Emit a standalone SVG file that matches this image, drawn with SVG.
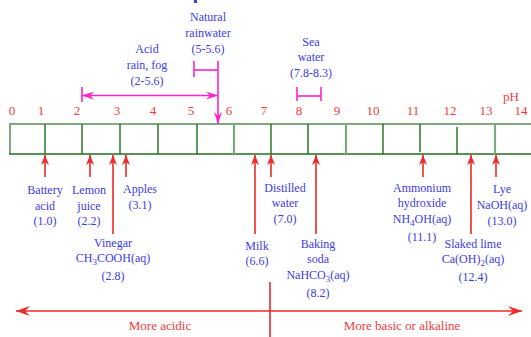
<svg xmlns="http://www.w3.org/2000/svg" width="531" height="337" viewBox="0 0 531 337">
  <style>
    text { font-family: "Liberation Serif", "Times New Roman", serif; }
    .num { fill: #f03c3c; font-size: 13px; text-anchor: middle; }
    .lbl { fill: #3c3ce6; font-size: 12px; text-anchor: middle; }
    .red { fill: #f03c3c; font-size: 13px; text-anchor: middle; }
    .tickd { stroke: #1f6e1f; stroke-width: 1.4; }
    .tickl { stroke: #7fa87f; stroke-width: 2.2; }
    .ptr { stroke: #f02828; stroke-width: 1.6; fill: none; marker-end: url(#up); }
    .mag { stroke: #ff22cc; stroke-width: 1.6; fill: none; }
    .dir { stroke: #ee2a2a; stroke-width: 1.6; fill: none; }
  </style>
  <defs>
    <marker id="up" viewBox="0 0 10 8" refX="10" refY="4" markerWidth="10" markerHeight="8" markerUnits="userSpaceOnUse" orient="auto">
      <path d="M0,0 L10,4 L0,8 L3,4 z" fill="#f02828"/>
    </marker>
    <marker id="mg" viewBox="0 0 12 8" refX="12" refY="4" markerWidth="12" markerHeight="8" markerUnits="userSpaceOnUse" orient="auto-start-reverse">
      <path d="M0,0 L12,4 L0,8 L4,4 z" fill="#ff22cc"/>
    </marker>
    <marker id="rd" viewBox="0 0 14 10" refX="14" refY="5" markerWidth="14" markerHeight="10" markerUnits="userSpaceOnUse" orient="auto-start-reverse">
      <path d="M0,0 L14,5 L0,10 L5,5 z" fill="#ee2a2a"/>
    </marker>
  </defs>

  <!-- small blue mark at the top edge -->
  <rect x="194" y="0" width="3" height="3" fill="#3c3ce6"/>

  <!-- pH scale numbers -->
  <g id="scale-numbers">
    <text class="num" x="12" y="115">0</text>
    <text class="num" x="41" y="115">1</text>
    <text class="num" x="77" y="115">2</text>
    <text class="num" x="117" y="115">3</text>
    <text class="num" x="153" y="115">4</text>
    <text class="num" x="191" y="115">5</text>
    <text class="num" x="229" y="115">6</text>
    <text class="num" x="264" y="115">7</text>
    <text class="num" x="299" y="115">8</text>
    <text class="num" x="337" y="115">9</text>
    <text class="num" x="373" y="115">10</text>
    <text class="num" x="413" y="115">11</text>
    <text class="num" x="450" y="115">12</text>
    <text class="num" x="486" y="115">13</text>
    <text class="num" x="521" y="115">14</text>
    <text class="num" x="511" y="101">pH</text>
  </g>

  <!-- scale bar -->
  <g id="bar">
    <line x1="10" y1="124" x2="531" y2="124" stroke="#7fa87f" stroke-width="2.2"/>
    <line x1="10" y1="123" x2="10" y2="154" stroke="#7fa87f" stroke-width="2"/>
    <line x1="9" y1="154" x2="531" y2="154" stroke="#1f6e1f" stroke-width="1.6"/>
    <line class="tickd" x1="45" y1="124" x2="45" y2="154"/>
    <line class="tickd" x1="82" y1="124" x2="82" y2="154"/>
    <line class="tickd" x1="120" y1="124" x2="120" y2="154"/>
    <line class="tickd" x1="158" y1="124" x2="158" y2="154" stroke="#3f833f"/>
    <line class="tickd" x1="197" y1="124" x2="197" y2="154" stroke="#3f833f"/>
    <line class="tickl" x1="234" y1="124" x2="234" y2="154"/>
    <line class="tickd" x1="271" y1="124" x2="271" y2="154"/>
    <line class="tickd" x1="308" y1="124" x2="308" y2="154"/>
    <line class="tickl" x1="346" y1="124" x2="346" y2="154"/>
    <line class="tickd" x1="383" y1="124" x2="383" y2="154"/>
    <line class="tickd" x1="420" y1="124" x2="420" y2="152"/>
    <line class="tickd" x1="457" y1="127" x2="457" y2="154"/>
    <line class="tickl" x1="495" y1="124" x2="495" y2="154"/>
  </g>

  <!-- range markers above the bar -->
  <g id="connectors">
    <!-- acid rain, fog range -->
    <line class="mag" x1="82" y1="87" x2="82" y2="102"/>
    <line class="mag" x1="82" y1="95.5" x2="218" y2="95.5" marker-start="url(#mg)" marker-end="url(#mg)"/>
    <!-- natural rainwater range -->
    <line class="mag" x1="194" y1="61" x2="194" y2="77"/>
    <line class="mag" x1="194" y1="70" x2="218" y2="70"/>
    <line class="mag" x1="218" y1="61" x2="218" y2="124" marker-end="url(#mg)"/>
    <!-- sea water range -->
    <line class="mag" x1="297" y1="87" x2="297" y2="101"/>
    <line class="mag" x1="321" y1="87" x2="321" y2="101"/>
    <line class="mag" x1="297" y1="96" x2="321" y2="96"/>

    <!-- pointers to the scale -->
    <line class="ptr" x1="45" y1="177" x2="45" y2="155"/>
    <line class="ptr" x1="90" y1="177" x2="90" y2="155"/>
    <line class="ptr" x1="113" y1="234" x2="113" y2="155"/>
    <line class="ptr" x1="126" y1="177" x2="126" y2="155"/>
    <line class="ptr" x1="255" y1="234" x2="255" y2="155"/>
    <line class="ptr" x1="271" y1="177" x2="271" y2="155"/>
    <line class="ptr" x1="316" y1="234" x2="316" y2="155"/>
    <line class="ptr" x1="423" y1="177" x2="423" y2="155"/>
    <line class="ptr" x1="471" y1="234" x2="471" y2="155"/>
    <line class="ptr" x1="496" y1="177" x2="496" y2="155"/>

    <!-- acidic / basic direction -->
    <line class="dir" x1="16" y1="311" x2="522" y2="311" marker-start="url(#rd)" marker-end="url(#rd)"/>
    <line class="dir" x1="270" y1="282" x2="270" y2="337"/>
  </g>

  <!-- range labels -->
  <g id="acid-rain">
    <text class="lbl" x="147" y="53">Acid</text>
    <text class="lbl" x="147" y="69">rain, fog</text>
    <text class="lbl" x="147" y="85">(2-5.6)</text>
  </g>
  <g id="natural-rainwater">
    <text class="lbl" x="208" y="21">Natural</text>
    <text class="lbl" x="208" y="37">rainwater</text>
    <text class="lbl" x="208" y="53">(5-5.6)</text>
  </g>
  <g id="sea-water">
    <text class="lbl" x="311" y="46">Sea</text>
    <text class="lbl" x="311" y="61">water</text>
    <text class="lbl" x="311" y="77">(7.8-8.3)</text>
  </g>

  <!-- substances -->
  <g id="battery-acid">
    <text class="lbl" x="45" y="194">Battery</text>
    <text class="lbl" x="45" y="210">acid</text>
    <text class="lbl" x="45" y="225">(1.0)</text>
  </g>
  <g id="lemon-juice">
    <text class="lbl" x="89" y="194">Lemon</text>
    <text class="lbl" x="89" y="210">juice</text>
    <text class="lbl" x="89" y="225">(2.2)</text>
  </g>
  <g id="apples">
    <text class="lbl" x="140" y="193">Apples</text>
    <text class="lbl" x="140" y="209">(3.1)</text>
  </g>
  <g id="vinegar">
    <text class="lbl" x="113" y="247">Vinegar</text>
    <text class="lbl" x="113" y="262">CH<tspan font-size="9" dy="3">3</tspan><tspan dy="-3">COOH(aq)</tspan></text>
    <text class="lbl" x="113" y="280">(2.8)</text>
  </g>
  <g id="milk">
    <text class="lbl" x="257" y="250">Milk</text>
    <text class="lbl" x="257" y="265">(6.6)</text>
  </g>
  <g id="distilled-water">
    <text class="lbl" x="285" y="192">Distilled</text>
    <text class="lbl" x="285" y="207">water</text>
    <text class="lbl" x="285" y="223">(7.0)</text>
  </g>
  <g id="baking-soda">
    <text class="lbl" x="318" y="248">Baking</text>
    <text class="lbl" x="318" y="263">soda</text>
    <text class="lbl" x="318" y="279">NaHCO<tspan font-size="9" dy="3">3</tspan><tspan dy="-3">(aq)</tspan></text>
    <text class="lbl" x="318" y="297">(8.2)</text>
  </g>
  <g id="ammonium-hydroxide">
    <text class="lbl" x="422" y="192">Ammonium</text>
    <text class="lbl" x="422" y="207">hydroxide</text>
    <text class="lbl" x="422" y="223">NH<tspan font-size="9" dy="3">4</tspan><tspan dy="-3">OH(aq)</tspan></text>
    <text class="lbl" x="422" y="241">(11.1)</text>
  </g>
  <g id="slaked-lime">
    <text class="lbl" x="473" y="248">Slaked lime</text>
    <text class="lbl" x="473" y="263">Ca(OH)<tspan font-size="9" dy="3">2</tspan><tspan dy="-3">(aq)</tspan></text>
    <text class="lbl" x="473" y="281">(12.4)</text>
  </g>
  <g id="lye">
    <text class="lbl" x="502" y="193">Lye</text>
    <text class="lbl" x="502" y="209">NaOH(aq)</text>
    <text class="lbl" x="502" y="225">(13.0)</text>
  </g>

  <!-- direction labels -->
  <g id="direction-labels">
    <text class="red" x="160" y="330">More acidic</text>
    <text class="red" x="402" y="330">More basic or alkaline</text>
  </g>
</svg>
